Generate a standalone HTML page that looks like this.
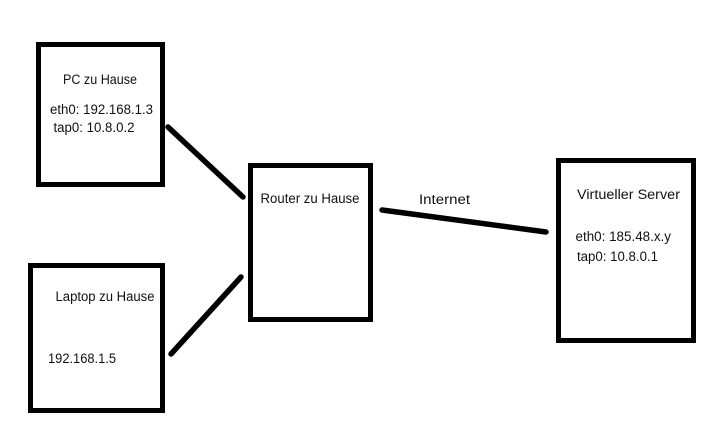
<!DOCTYPE html>
<html>
<head>
<meta charset="utf-8">
<style>
html,body{margin:0;padding:0;background:#fff;width:722px;height:442px;overflow:hidden}
svg{display:block}
text{font-family:"Liberation Sans",sans-serif;font-size:13.5px;fill:#111}
rect{fill:#fff;stroke:#000;stroke-width:5}
line{stroke:#000;stroke-width:5.5;stroke-linecap:round}
</style>
</head>
<body>
<svg width="722" height="442" viewBox="0 0 722 442" xmlns="http://www.w3.org/2000/svg">
<rect x="38.500" y="44.500" width="124" height="140"/>
<rect x="30.500" y="265.500" width="132" height="145"/>
<rect x="250.500" y="165.500" width="120" height="154"/>
<rect x="558.500" y="160.500" width="135" height="180"/>
<line x1="168" y1="127" x2="243" y2="197"/>
<line x1="171" y1="354" x2="241" y2="277"/>
<line x1="382" y1="210" x2="546" y2="232"/>
<text x="63" y="84" textLength="74" lengthAdjust="spacingAndGlyphs">PC zu Hause</text>
<text x="50" y="114" textLength="103" lengthAdjust="spacingAndGlyphs">eth0: 192.168.1.3</text>
<text x="53.500" y="132" textLength="81" lengthAdjust="spacingAndGlyphs">tap0: 10.8.0.2</text>
<text x="55.500" y="301" textLength="99" lengthAdjust="spacingAndGlyphs">Laptop zu Hause</text>
<text x="48" y="363" textLength="68" lengthAdjust="spacingAndGlyphs">192.168.1.5</text>
<text x="260.500" y="203" textLength="99" lengthAdjust="spacingAndGlyphs">Router zu Hause</text>
<text x="419" y="204" textLength="51" lengthAdjust="spacingAndGlyphs">Internet</text>
<text x="577" y="199" textLength="103" lengthAdjust="spacingAndGlyphs">Virtueller Server</text>
<text x="575.500" y="241" textLength="95.500" lengthAdjust="spacingAndGlyphs">eth0: 185.48.x.y</text>
<text x="577" y="261" textLength="81" lengthAdjust="spacingAndGlyphs">tap0: 10.8.0.1</text>
</svg>
</body>
</html>
